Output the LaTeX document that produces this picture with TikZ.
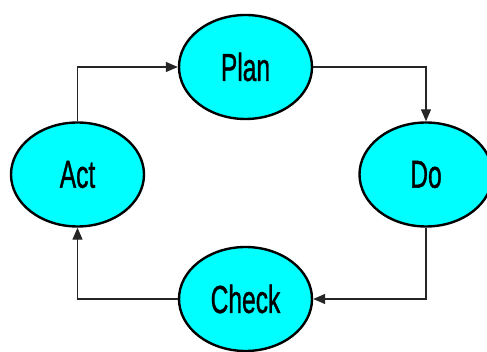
\documentclass[tikz,border=0pt]{standalone}
\usepackage{fontspec}
\setmainfont{Liberation Sans}[BoldFont={Liberation Sans},BoldFeatures={FakeBold=1.2}]
\usetikzlibrary{shapes.geometric,arrows.meta}
\definecolor{aqua}{RGB}{0,255,255}
\begin{document}
\begin{tikzpicture}[x=1pt,y=-1pt,>={Triangle[length=12pt,width=10pt]},
	stage/.style={ellipse,draw,line width=2.4pt,fill=aqua,minimum width=133pt,minimum height=104pt,inner sep=0pt,font=\fontsize{39}{39}\selectfont\bfseries},
	link/.style={->,line width=1.3pt,black!85}]
	\useasboundingbox (0,0) rectangle (487,352);
	\node[stage] (plan) at (245.5,67) {\scalebox{0.63}[1]{Plan}};
	\node[stage] (do) at (426,174.5) {\scalebox{0.63}[1]{Do}};
	\node[stage] (check) at (245.5,299) {\scalebox{0.63}[1]{Check}};
	\node[stage] (act) at (77.5,174.5) {\scalebox{0.63}[1]{Act}};
	\draw[link] (act.north) |- (plan.west);
	\draw[link] (plan.east) -| (do.north);
	\draw[link] (do.south) |- (check.east);
	\draw[link] (check.west) -| (act.south);
\end{tikzpicture}
\end{document}
